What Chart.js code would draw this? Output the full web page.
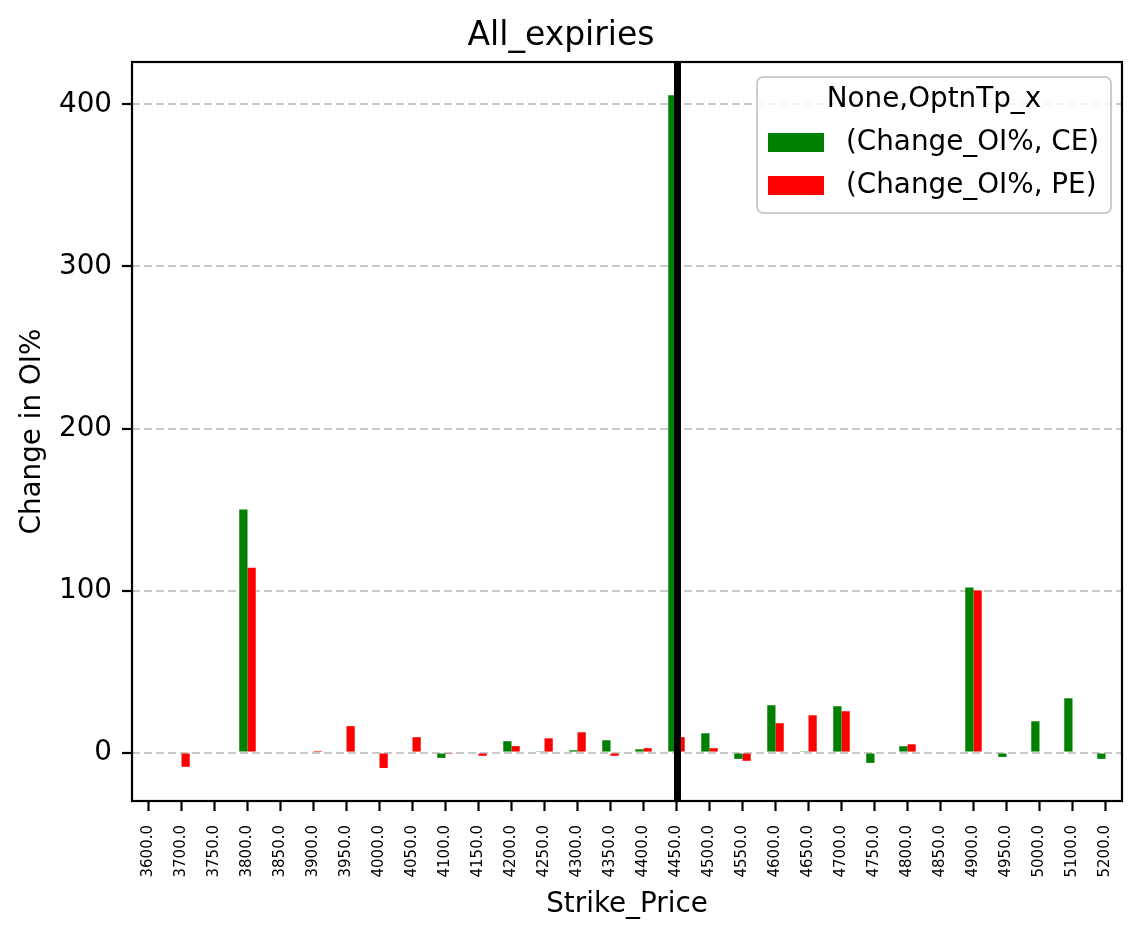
<!DOCTYPE html>
<html>
<head>
<meta charset="utf-8">
<script src="https://cdn.jsdelivr.net/npm/chart.js@4.4.0/dist/chart.umd.min.js"></script>
<style>
  html, body { margin: 0; padding: 0; background: #fff; }
  canvas { display: block; }
</style>
</head>
<body>
<canvas id="oiChart" width="1143" height="939"></canvas>
<script>
// strike prices (categories)
const strikes = ['3600.0', '3700.0', '3750.0', '3800.0', '3850.0', '3900.0', '3950.0', '4000.0', '4050.0', '4100.0',
  '4150.0', '4200.0', '4250.0', '4300.0', '4350.0', '4400.0', '4450.0', '4500.0', '4550.0', '4600.0',
  '4650.0', '4700.0', '4750.0', '4800.0', '4850.0', '4900.0', '4950.0', '5000.0', '5100.0', '5200.0'];

// change in OI % for calls and puts
const ceChange = [null, null, null, 150, null, null, null, null, null, -3.3,
  null, 7, 0.8, 1.4, 7.6, 2, 405.7, 11.9, -3.9, 29.2,
  0.8, 28.6, -6.4, 3.9, null, 101.9, -2.7, 19.3, 33.5, -3.9];
const peChange = [null, -8.8, null, 114, null, 1, 16.3, -9.5, 9.5, -0.8,
  -2, 4, 8.8, 12.5, -2, 2.7, 9.5, 2.7, -5.1, 18.1,
  23, 25.5, null, 5.1, null, 100, null, null, null, null];

const yTicks = [0, 100, 200, 300, 400];
const atmStrike = '4450.0';

const FONT = 'DejaVu Sans';

// black vertical line at the ATM strike
const atmLine = {
  id: 'atmLine',
  afterDatasetsDraw(chart) {
    const {ctx, chartArea, scales} = chart;
    const x = scales.x.getPixelForValue(strikes.indexOf(atmStrike)) + 1;
    ctx.save();
    ctx.strokeStyle = '#000';
    ctx.lineWidth = 7;
    ctx.beginPath();
    ctx.moveTo(x, chartArea.top);
    ctx.lineTo(x, chartArea.bottom);
    ctx.stroke();
    ctx.restore();
  }
};

// axes frame + legend box in the top right corner
const frameAndLegend = {
  id: 'frameAndLegend',
  afterDraw(chart) {
    const {ctx, chartArea} = chart;
    ctx.save();
    ctx.strokeStyle = '#000';
    ctx.lineWidth = 2.2;
    ctx.strokeRect(chartArea.left, chartArea.top, chartArea.right - chartArea.left, chartArea.bottom - chartArea.top);

    const w = 354, h = 136;
    const bx = chartArea.right - 11 - w, by = chartArea.top + 15;
    ctx.beginPath();
    ctx.roundRect(bx, by, w, h, 6);
    ctx.fillStyle = 'rgba(255,255,255,0.8)';
    ctx.fill();
    ctx.strokeStyle = '#cccccc';
    ctx.lineWidth = 2;
    ctx.stroke();

    ctx.font = '27.8px "' + FONT + '"';
    ctx.fillStyle = '#000';
    ctx.textBaseline = 'middle';
    ctx.textAlign = 'center';
    ctx.fillText('None,OptnTp_x', bx + w / 2, by + 23);
    ctx.textAlign = 'left';
    chart.data.datasets.forEach((ds, i) => {
      const yy = by + 56 + i * 43;
      ctx.fillStyle = ds.backgroundColor;
      ctx.fillRect(bx + 11, yy, 56, 19);
      ctx.fillStyle = '#000';
      ctx.fillText(ds.label, bx + 89, yy + 10);
    });
    ctx.restore();
  }
};

new Chart(document.getElementById('oiChart'), {
  type: 'bar',
  data: {
    labels: strikes,
    datasets: [
      { label: '(Change_OI%, CE)', data: ceChange, backgroundColor: '#008000' },
      { label: '(Change_OI%, PE)', data: peChange, backgroundColor: '#ff0000' }
    ]
  },
  options: {
    responsive: false,
    animation: false,
    devicePixelRatio: 1,
    categoryPercentage: 0.5,
    barPercentage: 1.0,
    layout: { padding: { left: 0, right: 21, top: 0, bottom: 0 } },
    plugins: {
      legend: { display: false },
      tooltip: { enabled: false },
      title: {
        display: true,
        text: 'All_expiries',
        color: '#000',
        font: { family: FONT, size: 33, weight: 'normal' },
        padding: { top: 17, bottom: 5.4 }
      }
    },
    scales: {
      x: {
        offset: true,
        afterFit(scale) { scale.height = 138; },
        grid: { display: true, offset: false, drawOnChartArea: false, drawTicks: true, tickLength: 10, tickColor: '#000', tickWidth: 2.2 },
        border: { display: false },
        ticks: { color: '#000', font: { family: FONT, size: 15 }, minRotation: 90, maxRotation: 90, autoSkip: false, padding: 14 },
        title: { display: true, text: 'Strike_Price', color: '#000', font: { family: FONT, size: 27.8 }, padding: { top: 0, bottom: 18 } }
      },
      y: {
        min: -29.9,
        max: 426.2,
        afterFit(scale) { scale.width = 132; },
        afterBuildTicks(axis) { axis.ticks = yTicks.map(v => ({ value: v })); },
        grid: { color: '#c8c8c8', lineWidth: 2, tickLength: 10, tickColor: '#000', tickWidth: 2.2, tickBorderDash: [] },
        border: { display: false, dash: [8, 4] },
        ticks: { color: '#000', font: { family: FONT, size: 27.8 }, padding: 10 },
        title: { display: true, text: 'Change in OI%', color: '#000', font: { family: FONT, size: 27.8 }, padding: { top: 16, bottom: 0 } }
      }
    }
  },
  plugins: [atmLine, frameAndLegend]
});
</script>
</body>
</html>
